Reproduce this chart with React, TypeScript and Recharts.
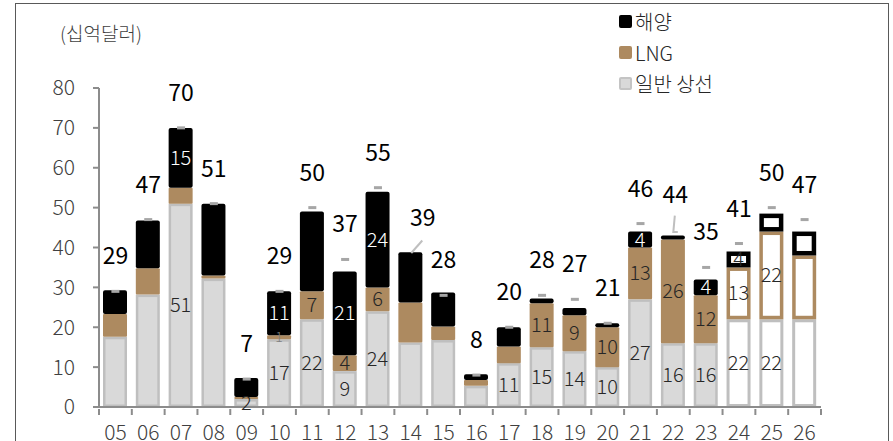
import { ComposedChart, Bar, Line, XAxis, YAxis, Legend, LabelList } from 'recharts';

// 연도별 선박 수주 (십억달러)
const years = ['05', '06', '07', '08', '09', '10', '11', '12', '13', '14', '15', '16', '17', '18', '19', '20', '21', '22', '23', '24', '25', '26'];
const general = [17.6, 28.2, 51, 32.2, 2, 17, 22, 9, 24, 16.2, 16.8, 5.3, 11, 15, 14, 10, 27, 16, 16, 22, 22, 22];
const lng = [5.7, 6.6, 4, 0.8, 0.5, 1, 7, 4, 6, 10, 3.4, 1.5, 4.2, 11, 9, 10, 13, 26, 12, 13, 22, 16];
const offshore = [6, 12, 15, 18, 4.8, 11, 20, 21, 24, 12.6, 8.5, 1.4, 4.8, 1.2, 1.8, 1, 4, 1, 4, 4, 4.5, 6];
const totals = [29, 47, 70, 51, 7, 29, 50, 37, 55, 39, 28, 8, 20, 28, 27, 21, 46, 44, 35, 41, 50, 47];

// 전망치 (빈 막대로 표시)
const forecastYears = ['24', '25', '26'];

// 값 라벨을 붙이는 연도
const generalLabelYears = ['07', '09', '10', '11', '12', '13', '17', '18', '19', '20', '21', '22', '23', '24', '25'];
const lngLabelYears = ['10', '11', '12', '13', '18', '19', '20', '21', '22', '23', '24', '25'];
const offshoreLabelYears = ['07', '10', '12', '13', '21', '23', '24'];

const yTicks = [0, 10, 20, 30, 40, 50, 60, 70, 80];

const data = years.map((year, i) => ({
  year,
  general: general[i],
  lng: lng[i],
  offshore: offshore[i],
  total: totals[i],
}));

const FONT = '"Noto Sans CJK KR", "Noto Sans", sans-serif';
const BROWN = '#ad8a60';
const GREY = '#d9d9d9';
const GREY_EDGE = '#bfbfbf';
const AXIS = '#8c8c8c';

const W = 893;
const H = 441;
const MARGIN = { top: 88, right: 72, bottom: 0, left: 0 };
const Y_AXIS_W = 99;
const BAND = (W - MARGIN.right - Y_AXIS_W) / years.length;

type Kind = 'general' | 'lng' | 'offshore';

const solidStyle: Record<Kind, { fill: string; stroke?: string; sw: number; r: number }> = {
  general: { fill: GREY, stroke: GREY_EDGE, sw: 2.5, r: 0 },
  lng: { fill: BROWN, sw: 0, r: 1 },
  offshore: { fill: '#000', sw: 0, r: 2 },
};

const hollowStyle: Record<Kind, { stroke: string; sw: number }> = {
  general: { stroke: GREY_EDGE, sw: 3 },
  lng: { stroke: BROWN, sw: 3.5 },
  offshore: { stroke: '#000', sw: 4.5 },
};

function Segment(props: any) {
  const { x, y, width, height, index, kind } = props;
  if (!height || height <= 0) return null;
  const year = props.payload?.year ?? years[index];
  if (forecastYears.includes(year)) {
    const s = hollowStyle[kind as Kind];
    return (
      <rect
        x={x + s.sw / 2}
        y={y + s.sw / 2}
        width={Math.max(width - s.sw, 0)}
        height={Math.max(height - s.sw, 0)}
        fill="#fff"
        stroke={s.stroke}
        strokeWidth={s.sw}
      />
    );
  }
  const s = solidStyle[kind as Kind];
  if (s.sw > 0) {
    return (
      <rect
        x={x + s.sw / 2}
        y={y + s.sw / 2}
        width={width - s.sw}
        height={Math.max(height - s.sw, 0.5)}
        fill={s.fill}
        stroke={s.stroke}
        strokeWidth={s.sw}
      />
    );
  }
  return <rect x={x} y={y} width={width} height={height} rx={Math.min(s.r, height / 2)} fill={s.fill} />;
}

const segmentLabel = (kind: Kind, shown: string[]) => (props: any) => {
  const vb = props.viewBox ?? props;
  const x = vb.x ?? props.x;
  const y = vb.y ?? props.y;
  const width = vb.width ?? props.width;
  const height = vb.height ?? props.height;
  const year = years[props.index];
  if (!shown.includes(year)) return null;
  const onBlack = kind === 'offshore' && !forecastYears.includes(year);
  // 아주 얇은 LNG 조각의 값은 작게
  const tiny = Math.abs(height) < 6;
  return (
    <text
      x={x + width / 2}
      y={y + height / 2 + (tiny ? 5 : 7)}
      textAnchor="middle"
      fontFamily={FONT}
      fontSize={tiny ? 14 : 20}
      fontWeight={300}
      fill={onBlack ? '#fff' : tiny ? '#7f7f7f' : '#262626'}
    >
      {props.value}
    </text>
  );
};

// 합계 라벨 위치 보정
const totalNudge: Record<string, { dx: number; dy: number }> = {
  '14': { dx: 12, dy: -33 },
  '22': { dx: 2, dy: -37 },
};

function TotalMark(props: any) {
  const { cx, cy, index } = props;
  const year = years[index];
  if (year === '14') {
    return <line x1={cx + 11.5} y1={cy - 11} x2={cx + 0.5} y2={cy + 1.5} stroke={GREY_EDGE} strokeWidth={2} />;
  }
  if (year === '22') {
    return (
      <polyline
        points={`${cx + 1.5},${cy - 16} ${cx},${cy + 0.5} ${cx + 4.5},${cy + 0.5}`}
        fill="none"
        stroke={GREY_EDGE}
        strokeWidth={2}
      />
    );
  }
  return <rect x={cx - 4} y={cy - 1.5} width={8} height={3} fill="#a6a6a6" />;
}

function TotalLabel(props: any) {
  const vb = props.viewBox ?? props;
  const x = props.x ?? vb.x;
  const y = props.y ?? vb.y;
  const year = years[props.index];
  const n = totalNudge[year] ?? { dx: 0, dy: -35 };
  return (
    <text
      x={x + n.dx}
      y={y + n.dy + 8}
      textAnchor="middle"
      fontFamily={FONT}
      fontSize={23}
      fontWeight={400}
      fill="#000"
    >
      {props.value}
    </text>
  );
}

function XTick(props: any) {
  const { x, y, payload, index } = props;
  const left = x - BAND / 2;
  return (
    <g>
      <line x1={left} y1={y} x2={left} y2={y + 6} stroke={AXIS} strokeWidth={2} />
      {index === years.length - 1 && (
        <line x1={x + BAND / 2} y1={y} x2={x + BAND / 2} y2={y + 6} stroke={AXIS} strokeWidth={2} />
      )}
      <text x={x} y={y + 31} textAnchor="middle" fontFamily={FONT} fontSize={21} fontWeight={300} fill="#404040">
        {payload.value}
      </text>
    </g>
  );
}

const legendItems = [
  { name: '해양', fill: '#000', border: '#000' },
  { name: 'LNG', fill: BROWN, border: BROWN },
  { name: '일반 상선', fill: GREY, border: '#c4c4c4' },
];

function LegendBox() {
  return (
    <div style={{ fontFamily: FONT }}>
      {legendItems.map((it) => (
        <div key={it.name} style={{ display: 'flex', alignItems: 'center', height: 31 }}>
          <span
            style={{
              display: 'inline-block',
              width: 9,
              height: 9,
              background: it.fill,
              border: `2px solid ${it.border}`,
              borderRadius: 2,
              marginRight: 3,
            }}
          />
          <span style={{ fontSize: 20, color: '#262626', fontWeight: 300 }}>{it.name}</span>
        </div>
      ))}
    </div>
  );
}

export default function App() {
  return (
    <div style={{ position: 'fixed', left: 0, top: 0, width: W, height: H, overflow: 'hidden', background: '#fff' }}>
      <div
        style={{
          position: 'absolute',
          left: 15,
          top: 3,
          width: 872,
          height: 470,
          border: '1.5px solid #595959',
        }}
      />
      <div
        style={{
          position: 'absolute',
          left: 60,
          top: 20,
          fontFamily: FONT,
          fontSize: 19,
          fontWeight: 300,
          color: '#404040',
          lineHeight: '26px',
        }}
      >
        (십억달러)
      </div>
      <div style={{ position: 'absolute', left: 0, top: 0 }}>
        <ComposedChart width={W} height={H} data={data} margin={MARGIN} barSize={24}>
          <XAxis
            dataKey="year"
            interval={0}
            tickSize={0}
            tickLine={false}
            height={34}
            axisLine={{ stroke: AXIS, strokeWidth: 2 }}
            tick={<XTick />}
          />
          <YAxis
            domain={[0, 80]}
            ticks={yTicks}
            width={Y_AXIS_W}
            tickSize={6}
            tickMargin={18}
            axisLine={{ stroke: AXIS, strokeWidth: 2 }}
            tickLine={{ stroke: AXIS, strokeWidth: 2 }}
            tick={{ fontFamily: FONT, fontSize: 21, fontWeight: 300, fill: '#404040' }}
          />
          <Legend
            layout="vertical"
            align="center"
            verticalAlign="middle"
            content={<LegendBox />}
            wrapperStyle={{ left: 619, top: 6, width: 'auto', height: 'auto' }}
          />
          <Bar dataKey="general" name="일반 상선" stackId="a" isAnimationActive={false} shape={(p: any) => <Segment {...p} kind="general" />}>
            <LabelList dataKey="general" content={segmentLabel('general', generalLabelYears)} />
          </Bar>
          <Bar dataKey="lng" name="LNG" stackId="a" isAnimationActive={false} shape={(p: any) => <Segment {...p} kind="lng" />}>
            <LabelList dataKey="lng" content={segmentLabel('lng', lngLabelYears)} />
          </Bar>
          <Bar dataKey="offshore" name="해양" stackId="a" isAnimationActive={false} shape={(p: any) => <Segment {...p} kind="offshore" />}>
            <LabelList dataKey="offshore" content={segmentLabel('offshore', offshoreLabelYears)} />
          </Bar>
          <Line
            dataKey="total"
            stroke="none"
            isAnimationActive={false}
            activeDot={false}
            dot={(p: any) => <TotalMark key={`t-${p.index}`} {...p} />}
          >
            <LabelList dataKey="total" content={TotalLabel} />
          </Line>
        </ComposedChart>
      </div>
    </div>
  );
}
